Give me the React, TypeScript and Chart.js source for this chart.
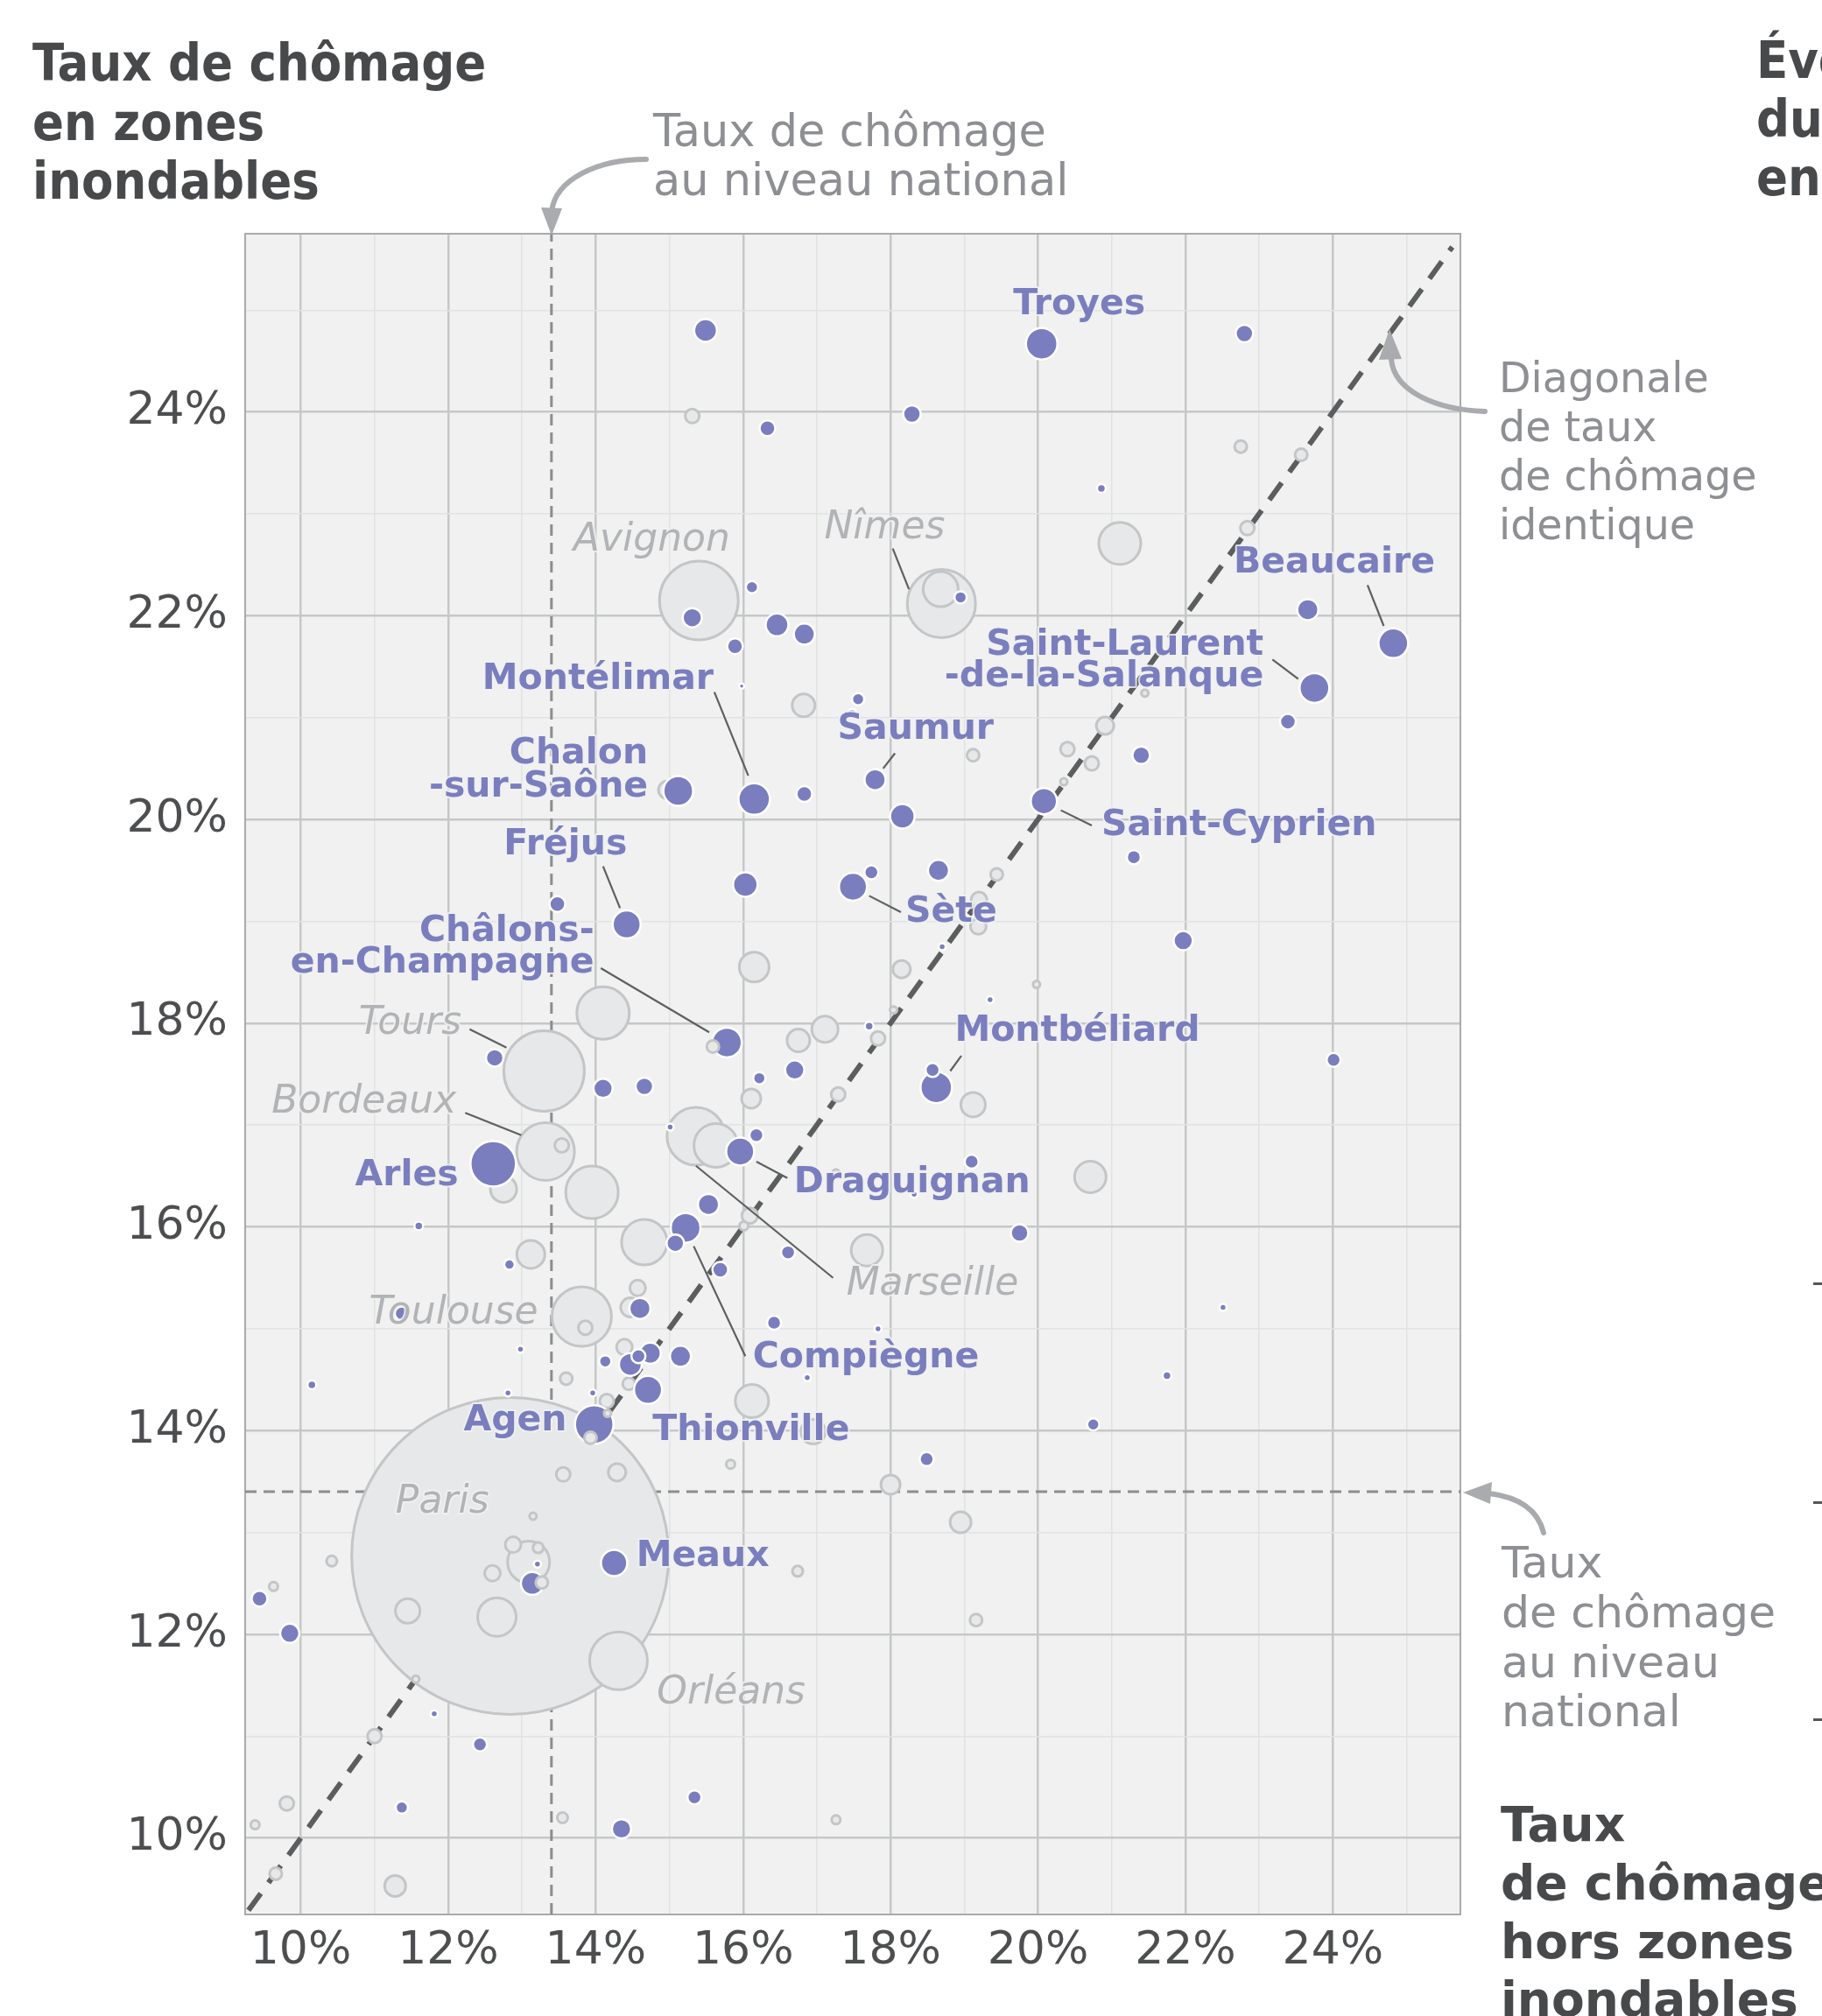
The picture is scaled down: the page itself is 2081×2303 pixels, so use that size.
import React, { useEffect, useRef } from 'react';
import { Chart, registerables } from 'chart.js';

Chart.register(...registerables);

const W = 2081;
const H = 2303;

// National unemployment rate (%)
const nationalRate = 13.4;
// Axis range (%)
const axisMinX = 9.245;
const axisMaxX = 25.73;
const axisMinY = 9.25;
const axisMaxY = 25.75;
const diagonalEnds = [9.29, 25.62];

// Highlighted cities (purple): x = outside flood zones, y = in flood zones, r = bubble radius
const purpleX = [15.49, 16.33, 15.31, 16.12, 16.46, 16.83, 15.89, 15.98, 15.12, 16.15, 16.83, 20.05, 22.80, 18.29, 20.86, 18.95, 23.66, 24.82, 23.75, 23.39, 17.56, 17.48, 17.79, 18.16, 20.08, 21.40, 13.48, 14.42, 16.03, 17.49, 17.74, 18.65, 21.30, 21.97, 15.78, 12.63, 14.10, 14.66, 17.71, 16.70, 16.22, 18.70, 19.35, 18.62, 18.57, 24.01, 12.61, 15.01, 15.96, 16.18, 19.10, 18.32, 11.60, 12.83, 15.08, 15.22, 15.53, 16.61, 19.75, 15.69, 11.37, 14.60, 16.42, 17.83, 22.51, 12.98, 14.13, 14.47, 14.58, 14.74, 15.15, 16.87, 21.75, 10.15, 14.71, 12.81, 13.96, 13.98, 20.75, 18.49, 14.25, 13.21, 13.14, 9.44, 9.85, 11.81, 12.43, 15.34, 14.35, 11.37];
const purpleY = [24.80, 23.84, 21.98, 22.28, 21.91, 21.82, 21.70, 21.31, 20.28, 20.20, 20.25, 24.67, 24.77, 23.98, 23.25, 22.18, 22.06, 21.73, 21.29, 20.96, 21.18, 21.04, 20.39, 20.03, 20.18, 20.63, 19.17, 18.97, 19.36, 19.34, 19.48, 19.50, 19.63, 18.81, 17.81, 17.66, 17.36, 17.38, 17.97, 17.54, 17.46, 18.75, 18.23, 17.37, 17.54, 17.64, 16.62, 16.98, 16.74, 16.90, 16.64, 16.32, 16.01, 15.63, 15.84, 15.99, 16.22, 15.75, 15.94, 15.58, 15.15, 15.20, 15.06, 15.00, 15.21, 14.80, 14.68, 14.65, 14.73, 14.76, 14.73, 14.52, 14.54, 14.45, 14.40, 14.37, 14.37, 14.06, 14.06, 13.72, 12.70, 12.69, 12.50, 12.35, 12.01, 11.22, 10.92, 10.40, 10.09, 10.30];
const purpleR = [13, 9, 11, 7, 13, 12, 9, 3, 17, 18, 9, 18, 10, 10, 5, 7, 12, 17, 17, 9, 7, 5, 12, 14, 15, 10, 9, 16, 14, 16, 8, 12, 8, 11, 17, 10, 11, 10, 5, 11, 7, 4, 4, 18, 8, 8, 26, 4, 16, 8, 8, 4, 5, 6, 10, 17, 12, 8, 10, 9, 8, 12, 8, 4, 4, 4, 7, 13, 8, 12, 12, 4, 5, 5, 16, 4, 4, 22, 7, 8, 15, 4, 13, 9, 11, 4, 8, 8, 11, 7];

// Other cities (grey)
const greyX = [15.31, 15.40, 16.82, 14.97, 22.75, 23.57, 21.11, 22.84, 18.69, 18.68, 20.91, 20.40, 20.73, 20.35, 21.45, 19.12, 16.15, 18.15, 18.04, 14.10, 13.30, 16.75, 17.11, 17.83, 16.11, 17.29, 13.32, 13.54, 12.75, 13.95, 15.36, 15.63, 16.09, 16.01, 13.12, 14.66, 17.68, 14.57, 13.81, 13.86, 14.47, 14.39, 13.60, 14.45, 14.15, 16.12, 16.95, 15.83, 13.56, 14.29, 18.00, 12.84, 13.15, 12.88, 13.22, 13.09, 12.60, 11.45, 12.66, 10.42, 9.63, 14.31, 11.56, 11.00, 13.55, 17.26, 9.81, 9.38, 9.66, 11.28, 19.12, 20.71, 19.44, 19.20, 19.19, 19.98, 17.26, 18.95, 16.74, 19.16];
const greyY = [23.96, 22.15, 21.12, 20.29, 23.66, 23.58, 22.71, 22.86, 22.12, 22.26, 20.92, 20.69, 20.55, 20.37, 21.24, 20.63, 18.55, 18.53, 18.13, 18.10, 17.53, 17.83, 17.94, 17.85, 17.26, 17.30, 16.74, 16.80, 16.37, 16.34, 16.89, 16.80, 16.11, 16.01, 15.73, 15.85, 15.77, 15.40, 15.12, 15.01, 15.21, 14.82, 14.51, 14.46, 14.29, 14.29, 13.99, 13.67, 13.57, 13.59, 13.47, 12.77, 13.16, 12.88, 12.85, 12.71, 12.60, 12.23, 12.17, 12.72, 12.47, 11.74, 11.56, 11.00, 10.20, 10.18, 10.34, 10.13, 9.65, 9.53, 17.20, 16.49, 19.46, 19.21, 18.95, 18.38, 16.53, 13.10, 12.62, 12.14];
const greyR = [8, 45, 13, 10, 7, 7, 24, 8, 39, 20, 10, 8, 8, 4, 4, 7, 17, 10, 4, 30, 46, 13, 15, 8, 11, 8, 33, 8, 15, 30, 33, 25, 9, 5, 16, 26, 18, 9, 34, 8, 11, 9, 7, 7, 8, 19, 14, 5, 8, 10, 11, 181, 4, 9, 6, 24, 9, 14, 22, 6, 5, 33, 4, 8, 6, 5, 8, 5, 7, 12, 14, 18, 7, 9, 9, 4, 4, 12, 6, 7];

// Grey cities drawn above the purple ones
const greyTopX = [15.59, 13.93, 14.16, 13.27];
const greyTopY = [17.77, 13.93, 14.17, 12.51];
const greyTopR = [7, 7, 4, 7];

// City labels: text, x, y (anchor in %), alignment, kind (p = highlighted, g = grey italic)
const labelText = ['Troyes', 'Beaucaire', 'Saint-Laurent', '-de-la-Salanque', 'Saumur', 'Saint-Cyprien', 'Montélimar', 'Chalon', '-sur-Saône', 'Fréjus', 'Châlons-', 'en-Champagne', 'Sète', 'Montbéliard', 'Arles', 'Draguignan', 'Compiègne', 'Agen', 'Thionville', 'Meaux', 'Avignon', 'Nîmes', 'Tours', 'Bordeaux', 'Marseille', 'Toulouse', 'Paris', 'Orléans'];
const labelX = [20.56, 24.02, 23.06, 23.06, 18.34, 20.86, 15.60, 14.71, 14.71, 13.59, 13.98, 13.98, 18.20, 18.87, 12.14, 16.69, 16.13, 13.61, 14.77, 14.55, 14.76, 17.92, 12.18, 12.11, 17.40, 13.22, 11.92, 14.83];
const labelY = [25.05, 22.52, 21.71, 21.40, 20.88, 19.94, 21.37, 20.64, 20.32, 19.75, 18.90, 18.59, 19.09, 17.92, 16.50, 16.43, 14.71, 14.09, 14.00, 12.76, 22.74, 22.86, 17.99, 17.22, 15.43, 15.15, 13.29, 11.42];
const labelAlign = ['center', 'center', 'right', 'right', 'center', 'left', 'right', 'right', 'right', 'center', 'right', 'right', 'left', 'left', 'right', 'left', 'left', 'right', 'left', 'left', 'center', 'center', 'right', 'right', 'left', 'right', 'center', 'left'];
const labelKind = ['p', 'p', 'p', 'p', 'p', 'p', 'p', 'p', 'p', 'p', 'p', 'p', 'p', 'p', 'p', 'p', 'p', 'p', 'p', 'p', 'g', 'g', 'g', 'g', 'g', 'g', 'g', 'g'];

// Leader lines: x1, y1, x2, y2 (%)
const leaderX1 = [18.03, 24.47, 23.18, 15.61, 18.06, 20.31, 14.10, 17.71, 14.07, 12.29, 18.96, 12.23, 16.18, 15.36, 15.33];
const leaderY1 = [22.66, 22.30, 21.57, 21.25, 20.65, 20.09, 19.54, 19.25, 18.54, 17.94, 17.68, 17.12, 16.64, 16.60, 15.81];
const leaderX2 = [18.25, 24.69, 23.53, 16.07, 17.90, 20.73, 14.33, 18.14, 15.54, 12.79, 18.81, 12.99, 16.60, 17.22, 16.03];
const leaderY2 = [22.26, 21.90, 21.38, 20.43, 20.50, 19.94, 19.13, 19.09, 17.91, 17.76, 17.53, 16.90, 16.48, 15.50, 14.73];

const PURPLE = '#7a7ebe';
const GREY_FILL = '#e7e8ea';
const GREY_LINE = '#c4c5c7';
const PLOT_BG = '#f0f1f0';

// Target plot frame on the page
const FRAME = { left: 280, top: 267, right: 1668, bottom: 2187 };

const toPoints = (xs: number[], ys: number[], rs: number[]) => {
  const pts = xs.map((x, i) => ({ x, y: ys[i], r: rs[i] }));
  return pts.sort((a, b) => b.r - a.r);
};

const bgPlugin = {
  id: 'plotBg',
  beforeDraw(chart: any) {
    const { ctx, chartArea: a } = chart;
    ctx.save();
    ctx.fillStyle = '#ffffff';
    ctx.fillRect(0, 0, chart.width, chart.height);
    ctx.fillStyle = PLOT_BG;
    ctx.fillRect(a.left, a.top, a.right - a.left, a.bottom - a.top);
    ctx.restore();
  },
  beforeDatasetsDraw(chart: any) {
    const { ctx, chartArea: a } = chart;
    ctx.save();
    ctx.strokeStyle = '#a9aaac';
    ctx.lineWidth = 2;
    ctx.strokeRect(a.left, a.top, a.right - a.left, a.bottom - a.top);
    ctx.restore();
  },
};

const labelPlugin = {
  id: 'cityLabels',
  afterDatasetsDraw(chart: any) {
    const { ctx } = chart;
    const sx = chart.scales.x;
    const sy = chart.scales.y;
    ctx.save();
    ctx.strokeStyle = '#5e5f61';
    ctx.lineWidth = 2.2;
    leaderX1.forEach((x1, i) => {
      ctx.beginPath();
      ctx.moveTo(sx.getPixelForValue(x1), sy.getPixelForValue(leaderY1[i]));
      ctx.lineTo(sx.getPixelForValue(leaderX2[i]), sy.getPixelForValue(leaderY2[i]));
      ctx.stroke();
    });
    ctx.textBaseline = 'middle';
    ctx.lineJoin = 'round';
    labelText.forEach((t, i) => {
      const px = sx.getPixelForValue(labelX[i]);
      const py = sy.getPixelForValue(labelY[i]);
      ctx.textAlign = labelAlign[i] as CanvasTextAlign;
      if (labelKind[i] === 'p') {
        ctx.font = 'bold 41px "DejaVu Sans"';
        ctx.fillStyle = PURPLE;
      } else {
        ctx.font = 'italic 44px "DejaVu Sans"';
        ctx.fillStyle = '#b2b3b6';
      }
      ctx.strokeStyle = 'rgba(240,241,240,0.85)';
      ctx.lineWidth = 4;
      ctx.strokeText(t, px, py);
      ctx.fillText(t, px, py);
    });
    ctx.restore();
  },
};

const gridColor = (ctx: any) => {
  const v = ctx.tick ? ctx.tick.value : NaN;
  if (!Number.isInteger(v)) return 'rgba(0,0,0,0)';
  return v % 2 === 0 ? '#c6c7c8' : '#e1e2e2';
};
const gridWidth = (ctx: any) => {
  const v = ctx.tick ? ctx.tick.value : NaN;
  if (!Number.isInteger(v)) return 0;
  return v % 2 === 0 ? 2.5 : 1.5;
};
const tickLabel = (v: any) => (Number.isInteger(v) && v % 2 === 0 && v >= 10 && v <= 24 ? `${v}%` : '');

export default function App() {
  const ref = useRef<HTMLCanvasElement>(null);

  useEffect(() => {
    if (!ref.current) return;
    const dims = { xH: 116, yW: FRAME.left, padTop: FRAME.top, padRight: W - FRAME.right };
    const cfg: any = {
      type: 'bubble',
      data: {
        datasets: [
          {
            type: 'line',
            data: [{ x: diagonalEnds[0], y: diagonalEnds[0] }, { x: diagonalEnds[1], y: diagonalEnds[1] }],
            borderColor: '#5c5d5f',
            borderWidth: 6,
            borderDash: [24, 15],
            pointRadius: 0,
            fill: false,
            order: 30,
          },
          {
            type: 'line',
            data: [{ x: nationalRate, y: axisMinY }, { x: nationalRate, y: axisMaxY }],
            borderColor: '#8c8d90',
            borderWidth: 3,
            borderDash: [13, 8],
            pointRadius: 0,
            fill: false,
            order: 31,
          },
          {
            type: 'line',
            data: [{ x: axisMinX, y: nationalRate }, { x: axisMaxX, y: nationalRate }],
            borderColor: '#8c8d90',
            borderWidth: 3,
            borderDash: [13, 8],
            pointRadius: 0,
            fill: false,
            order: 32,
          },
          {
            data: toPoints(greyX, greyY, greyR),
            backgroundColor: GREY_FILL,
            borderColor: GREY_LINE,
            borderWidth: 3,
            order: 20,
          },
          {
            data: toPoints(purpleX, purpleY, purpleR),
            backgroundColor: PURPLE,
            borderColor: '#ffffff',
            borderWidth: 2.5,
            order: 10,
          },
          {
            data: toPoints(greyTopX, greyTopY, greyTopR),
            backgroundColor: GREY_FILL,
            borderColor: GREY_LINE,
            borderWidth: 3,
            order: 5,
          },
        ],
      },
      options: {
        responsive: false,
        animation: false,
        devicePixelRatio: 1,
        events: [],
        layout: { autoPadding: false, padding: { left: 0, top: dims.padTop, right: dims.padRight, bottom: 0 } },
        plugins: { legend: { display: false }, tooltip: { enabled: false } },
        scales: {
          x: {
            type: 'linear',
            min: axisMinX,
            max: axisMaxX,
            afterFit: (s: any) => { s.height = dims.xH; },
            border: { display: false },
            grid: { color: gridColor, lineWidth: gridWidth, drawTicks: false },
            ticks: {
              stepSize: 1,
              includeBounds: false,
              autoSkip: false,
              maxRotation: 0,
              minRotation: 0,
              padding: 11,
              color: '#4d4e50',
              font: { family: '"DejaVu Sans"', size: 52 },
              callback: tickLabel,
            },
          },
          y: {
            type: 'linear',
            min: axisMinY,
            max: axisMaxY,
            afterFit: (s: any) => { s.width = dims.yW; },
            border: { display: false },
            grid: { color: gridColor, lineWidth: gridWidth, drawTicks: false },
            ticks: {
              stepSize: 1,
              includeBounds: false,
              autoSkip: false,
              padding: 20,
              color: '#4d4e50',
              font: { family: '"DejaVu Sans"', size: 52 },
              callback: tickLabel,
            },
          },
        },
      },
      plugins: [bgPlugin, labelPlugin],
    };
    const chart = new Chart(ref.current, cfg);
    // Nudge the layout so that the plot frame lands exactly where it is in the reference
    for (let k = 0; k < 3; k++) {
      const a = chart.chartArea;
      const dl = FRAME.left - a.left;
      const dt = FRAME.top - a.top;
      const dr = a.right - FRAME.right;
      const db = a.bottom - FRAME.bottom;
      if (Math.abs(dl) < 0.5 && Math.abs(dt) < 0.5 && Math.abs(dr) < 0.5 && Math.abs(db) < 0.5) break;
      dims.yW = Math.max(100, dims.yW + dl);
      dims.padTop = Math.max(0, dims.padTop + dt);
      dims.padRight = Math.max(0, dims.padRight + dr);
      dims.xH = Math.max(80, dims.xH + db);
      chart.options.layout.padding = { left: 0, top: dims.padTop, right: dims.padRight, bottom: 0 };
      chart.update();
    }
    return () => chart.destroy();
  }, []);

  const titleFont = { fontFamily: '"DejaVu Sans Condensed", "DejaVu Sans"', fontWeight: 'bold' as const, fontSize: 59, fontStretch: 'condensed' };
  const arrow = { stroke: '#a9abae', strokeWidth: 6, fill: 'none', strokeLinecap: 'round' as const };

  return (
    <div style={{ position: 'absolute', left: 0, top: 0, width: W, height: H, overflow: 'hidden', background: '#ffffff' }}>
      <canvas ref={ref} width={W} height={H} style={{ position: 'absolute', left: 0, top: 0, width: W, height: H }} />
      <svg width={W} height={H} style={{ position: 'absolute', left: 0, top: 0 }}>
        <g fill="#48494b" style={titleFont}>
          <text x={37} y={92}>Taux de chômage</text>
          <text x={37} y={160}>en zones</text>
          <text x={37} y={227}>inondables</text>
          <text x={2006} y={89}>Évolution</text>
          <text x={2006} y={156}>du taux de chômage</text>
          <text x={2006} y={223}>en zones inondables</text>
        </g>
        <g fill="#8e8f93" style={{ fontFamily: '"DejaVu Sans"', fontSize: 51 }}>
          <text x={746} y={167}>Taux de chômage</text>
          <text x={746} y={223}>au niveau national</text>
        </g>
        <g fill="#8e8f93" style={{ fontFamily: '"DejaVu Sans"', fontSize: 47.5 }}>
          <text x={1712} y={448}>Diagonale</text>
          <text x={1712} y={504}>de taux</text>
          <text x={1712} y={560}>de chômage</text>
          <text x={1712} y={616}>identique</text>
        </g>
        <g fill="#8e8f93" style={{ fontFamily: '"DejaVu Sans"', fontSize: 50.5 }}>
          <text x={1715} y={1802}>Taux</text>
          <text x={1715} y={1859}>de chômage</text>
          <text x={1715} y={1916}>au niveau</text>
          <text x={1715} y={1972}>national</text>
        </g>
        <g fill="#48494b" style={{ fontFamily: '"DejaVu Sans"', fontWeight: 'bold', fontSize: 55 }}>
          <text x={1714} y={2103}>Taux</text>
          <text x={1714} y={2170}>de chômage</text>
          <text x={1714} y={2237}>hors zones</text>
          <text x={1714} y={2303}>inondables</text>
        </g>
        <path d="M 738 182 C 682 182 634 205 630 242" {...arrow} />
        <polygon points="630,269 618,237 642,238" fill="#a9abae" />
        <path d="M 1696 470 C 1640 468 1592 447 1589 410" {...arrow} />
        <polygon points="1587,376 1575,411 1601,410" fill="#a9abae" />
        <path d="M 1763 1751 C 1756 1722 1732 1710 1701 1706" {...arrow} />
        <polygon points="1671,1705 1704,1693 1702,1718" fill="#a9abae" />
        <rect x={2071} y={1465} width={10} height={3} fill="#555658" />
        <rect x={2071} y={1715} width={10} height={3} fill="#555658" />
        <rect x={2071} y={1963} width={10} height={3} fill="#555658" />
      </svg>
    </div>
  );
}
